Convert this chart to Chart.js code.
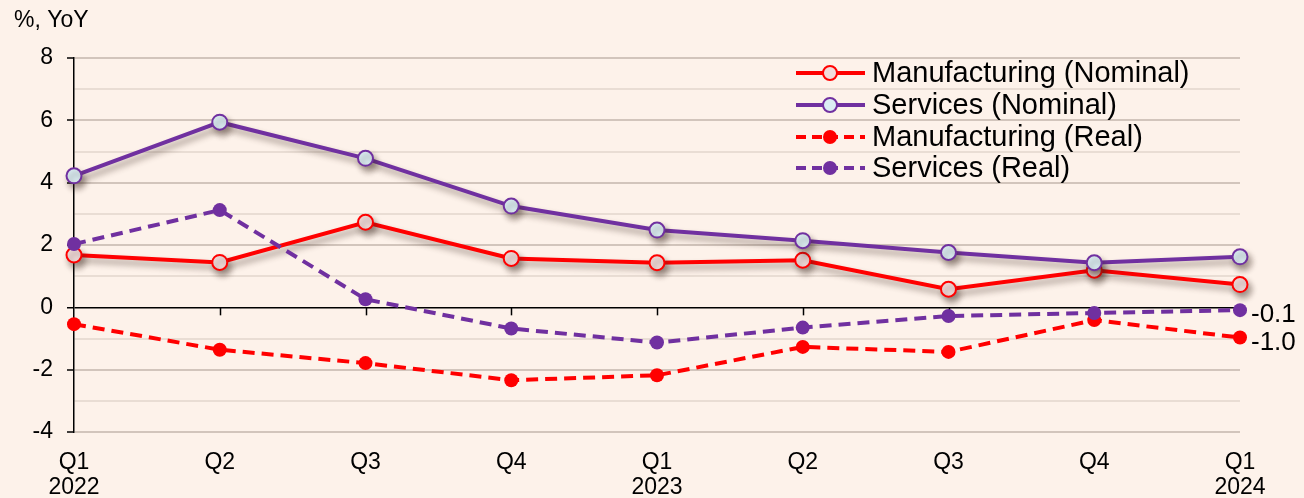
<!DOCTYPE html>
<html><head><meta charset="utf-8">
<script src="https://cdn.jsdelivr.net/npm/chart.js@4.4.0/dist/chart.umd.min.js"></script>
<style>
html,body{margin:0;padding:0;background:#fdf2ea;}
#wrap{position:relative;width:1304px;height:498px;overflow:hidden;}
canvas{display:block;}
</style>
</head><body>
<div id="wrap"><canvas id="c" width="1304" height="498"></canvas></div>
<script>
// ---- data ----
const quarters = [['Q1','2022'],'Q2','Q3','Q4',['Q1','2023'],'Q2','Q3','Q4',['Q1','2024']];
const manufacturingNominal = [1.68, 1.44, 2.73, 1.57, 1.43, 1.51, 0.58, 1.19, 0.73];
const servicesNominal      = [4.22, 5.94, 4.78, 3.25, 2.48, 2.14, 1.76, 1.43, 1.62];
const manufacturingReal    = [-0.54, -1.36, -1.79, -2.34, -2.18, -1.27, -1.43, -0.41, -0.97];
const servicesReal         = [2.03, 3.12, 0.26, -0.68, -1.13, -0.65, -0.28, -0.18, -0.09];
const seriesNames = ['Manufacturing (Nominal)','Services (Nominal)','Manufacturing (Real)','Services (Real)'];
const endLabelTexts = ['', '', '-1.0', '-0.1'];
const yTickValues = [-4, -2, 0, 2, 4, 6, 8];
const yUnitLabel = '%, YoY';

const RED = '#ff0000', PURPLE = '#7030a0';
const FONT = '"Liberation Sans", Arial, sans-serif';

const datasets = [
  {label: seriesNames[0], data: manufacturingNominal, borderColor: RED, borderWidth: 4,
   pointRadius: 7.5, pointBorderWidth: 2, pointBackgroundColor: '#f2dcdb', pointBorderColor: RED,
   shadow: true, order: 4},
  {label: seriesNames[1], data: servicesNominal, borderColor: PURPLE, borderWidth: 4,
   pointRadius: 7.5, pointBorderWidth: 2, pointBackgroundColor: '#dbeef4', pointBorderColor: PURPLE,
   shadow: true, order: 3},
  {label: seriesNames[2], data: manufacturingReal, borderColor: RED, borderWidth: 4, borderDash: [12, 7],
   pointRadius: 7, pointBorderWidth: 0, pointBackgroundColor: RED, pointBorderColor: RED, order: 2},
  {label: seriesNames[3], data: servicesReal, borderColor: PURPLE, borderWidth: 4, borderDash: [12, 7],
   pointRadius: 7, pointBorderWidth: 0, pointBackgroundColor: PURPLE, pointBorderColor: PURPLE, order: 1}
];
datasets.forEach(d => { d.tension = 0; d.fill = false; d.clip = false; d.pointHoverRadius = d.pointRadius; });

const shadowPlugin = {
  id: 'shadow',
  beforeDatasetDraw(chart, args) {
    const ds = chart.data.datasets[args.index];
    if (ds.shadow) {
      const ctx = chart.ctx; ctx.save();
      ctx.shadowColor = 'rgba(60,40,30,0.45)'; ctx.shadowBlur = 6; ctx.shadowOffsetX = 3; ctx.shadowOffsetY = 5;
    }
  },
  afterDatasetDraw(chart, args) {
    const ds = chart.data.datasets[args.index];
    if (ds.shadow) chart.ctx.restore();
  }
};

const decorPlugin = {
  id: 'decor',
  afterDatasetsDraw(chart) {
    const ctx = chart.ctx;
    ctx.save();
    ctx.font = '26px ' + FONT; ctx.fillStyle = '#000'; ctx.textBaseline = 'middle'; ctx.textAlign = 'left';
    chart.data.datasets.forEach((ds, i) => {
      const t = endLabelTexts[i]; if (!t) return;
      const pts = chart.getDatasetMeta(i).data; const p = pts[pts.length - 1];
      ctx.fillText(t, p.x + 11, p.y + 5);
    });
    ctx.restore();
  },
  beforeDatasetsDraw(chart) {
    const ctx = chart.ctx, xs = chart.scales.x, ys = chart.scales.y;
    const y0 = ys.getPixelForValue(0);
    ctx.save(); ctx.strokeStyle = '#000'; ctx.lineWidth = 1.5;
    for (let i = 1; i < quarters.length; i++) {
      const x = Math.round(xs.getPixelForValue(i)) + 0.5;
      ctx.beginPath(); ctx.moveTo(x, y0); ctx.lineTo(x, y0 + 8); ctx.stroke();
    }
    ctx.restore();
  },
  afterDraw(chart) {
    const ctx = chart.ctx;
    ctx.save();
    ctx.font = '23px ' + FONT; ctx.fillStyle = '#000'; ctx.textBaseline = 'alphabetic';
    ctx.fillText(yUnitLabel, 14, 27);
    const rows = [73, 105, 137, 168];
    ctx.font = '29px ' + FONT;
    chart.data.datasets.forEach((ds, i) => {
      const y = rows[i];
      ctx.save();
      ctx.strokeStyle = ds.borderColor; ctx.lineWidth = 4;
      ctx.setLineDash(ds.borderDash ? [10, 6] : []);
      ctx.beginPath(); ctx.moveTo(796, y); ctx.lineTo(865, y); ctx.stroke();
      ctx.setLineDash([]);
      ctx.beginPath(); ctx.arc(830, y, 7, 0, Math.PI * 2);
      ctx.fillStyle = ds.pointBackgroundColor; ctx.fill();
      if (ds.pointBorderWidth) { ctx.lineWidth = 2; ctx.strokeStyle = ds.pointBorderColor; ctx.stroke(); }
      ctx.restore();
      ctx.fillStyle = '#000'; ctx.textBaseline = 'middle';
      ctx.fillText(ds.label, 872, y + 1);
    });
    ctx.restore();
  }
};

new Chart(document.getElementById('c'), {
  type: 'line',
  data: { labels: quarters, datasets },
  options: {
    responsive: false, animation: false, devicePixelRatio: 1,
    layout: { padding: { top: 58, right: 64, left: 0, bottom: 0 } },
    plugins: { legend: { display: false }, tooltip: { enabled: false }, title: { display: false } },
    scales: {
      x: {
        type: 'category', offset: false,
        grid: { display: false, drawTicks: false },
        border: { display: false },
        ticks: { color: '#000', font: { size: 23, family: FONT, lineHeight: 1.1 }, padding: 18,
                 maxRotation: 0, autoSkip: false },
        afterFit(s) { s.height = 66; }
      },
      y: {
        min: -4, max: 8,
        afterBuildTicks(s) {
          const t = [];
          for (let v = -4; v <= 8; v++) t.push({ value: v });
          s.ticks = t;
        },
        ticks: {
          color: '#000', font: { size: 23, family: FONT }, padding: 14,
          callback: v => yTickValues.includes(v) ? String(v) : ''
        },
        grid: {
          color: c => c.tick.value === 0 ? '#000' : (c.tick.value % 2 === 0 ? '#d2c5bc' : '#e9ddd4'),
          lineWidth: c => c.tick.value === 0 ? 1.5 : 2,
          tickColor: c => (c.tick.value % 2 === 0) ? '#000' : 'rgba(0,0,0,0)',
          tickLength: 7, tickWidth: 1.5
        },
        border: { display: true, color: '#000', width: 1.5 },
        afterFit(s) { s.width = 74; }
      }
    }
  },
  plugins: [shadowPlugin, decorPlugin]
});
</script>
</body></html>
